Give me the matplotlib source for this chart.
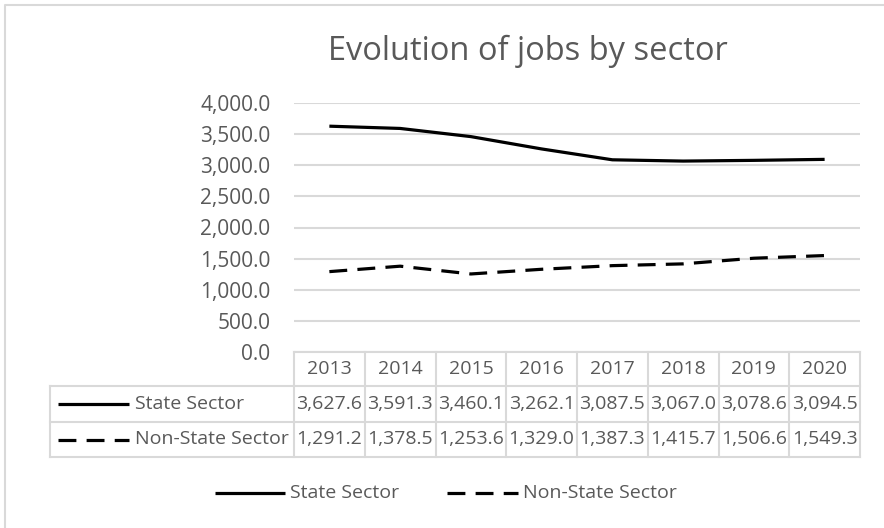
import matplotlib.pyplot as plt
from matplotlib.lines import Line2D

years = ['2013', '2014', '2015', '2016', '2017', '2018', '2019', '2020']
state = [3627.6, 3591.3, 3460.1, 3262.1, 3087.5, 3067.0, 3078.6, 3094.5]
non_state = [1291.2, 1378.5, 1253.6, 1329.0, 1387.3, 1415.7, 1506.6, 1549.3]
series_names = ['State Sector', 'Non-State Sector']
yticks = [0, 500, 1000, 1500, 2000, 2500, 3000, 3500, 4000]

W, H = 884, 528
TXT = '#595959'
GRID = '#D9D9D9'
plt.rcParams['font.family'] = ['Open Sans', 'DejaVu Sans']

fig = plt.figure(figsize=(W / 100, H / 100), dpi=100)


def fx(px):
    return px / W


def fy(py):
    return 1 - py / H


# plot area in pixels
x0, x1 = 294, 860
y_top, y_bot = 103, 352
ax = fig.add_axes([fx(x0), fy(y_bot), fx(x1 - x0), (y_bot - y_top) / H])

xs = list(range(len(years)))
styles = [dict(color='black', lw=2.3, ls='-', solid_capstyle='butt'),
          dict(color='black', lw=2.3, ls=(0, (5.6, 3.2)), dash_capstyle='butt')]
for vals, st in zip([state, non_state], styles):
    ax.plot(xs, vals, **st, zorder=3)

ax.set_xlim(-0.5, len(years) - 0.5)
ax.set_ylim(0, 4000)
ax.set_yticks(yticks)
ax.set_yticklabels([f'{v:,.1f}' for v in yticks])
ax.tick_params(axis='y', length=0, pad=17, labelsize=15, labelcolor=TXT)
ax.set_xticks([])
ax.grid(axis='y', color=GRID, lw=1.5)
ax.set_axisbelow(True)
for s in ax.spines.values():
    s.set_visible(False)

# data table
col_w = (x1 - x0) / len(years)
rows = [352, 386, 422, 457]
lab_x = 50


def hline(y, xa, xb):
    fig.add_artist(Line2D([fx(xa), fx(xb)], [fy(y), fy(y)], color=GRID, lw=1.5))


def vline(x, ya, yb):
    fig.add_artist(Line2D([fx(x), fx(x)], [fy(ya), fy(yb)], color=GRID, lw=1.5))


hline(rows[0], x0, x1)
for y in rows[1:]:
    hline(y, lab_x, x1)
vline(lab_x, rows[1], rows[3])
for k in range(len(years) + 1):
    vline(x0 + k * col_w, rows[0], rows[3])

for i, yr in enumerate(years):
    cx = x0 + (i + 0.5) * col_w
    fig.text(fx(cx), fy((rows[0] + rows[1]) / 2), yr, ha='center', va='center',
             fontsize=14, color=TXT)
    for r, vals in enumerate([state, non_state]):
        cy = (rows[r + 1] + rows[r + 2]) / 2
        fig.text(fx(cx), fy(cy), f'{vals[i]:,.1f}', ha='center', va='center',
                 fontsize=14, color=TXT)

for r, (name, st) in enumerate(zip(series_names, styles)):
    cy = (rows[r + 1] + rows[r + 2]) / 2
    fig.add_artist(Line2D([fx(58), fx(129)], [fy(cy), fy(cy)], **st))
    fig.text(fx(135), fy(cy), name, ha='left', va='center', fontsize=14, color=TXT)

# legend
leg_y = 493
for name, st, (ka, kb) in zip(series_names, styles, [(215, 285), (447, 518)]):
    fig.add_artist(Line2D([fx(ka), fx(kb)], [fy(leg_y), fy(leg_y)], **st))
    fig.text(fx(kb + 5), fy(leg_y), name, ha='left', va='center', fontsize=14, color=TXT)

fig.text(fx(528), fy(51), 'Evolution of jobs by sector', ha='center', va='center',
         fontsize=23.5, color=TXT)

# chart border (left and top edges visible)
fig.add_artist(Line2D([fx(5), fx(5), fx(W)], [0, fy(5), fy(5)], color=GRID, lw=1.5))

fig.savefig('out.png', dpi=100)
